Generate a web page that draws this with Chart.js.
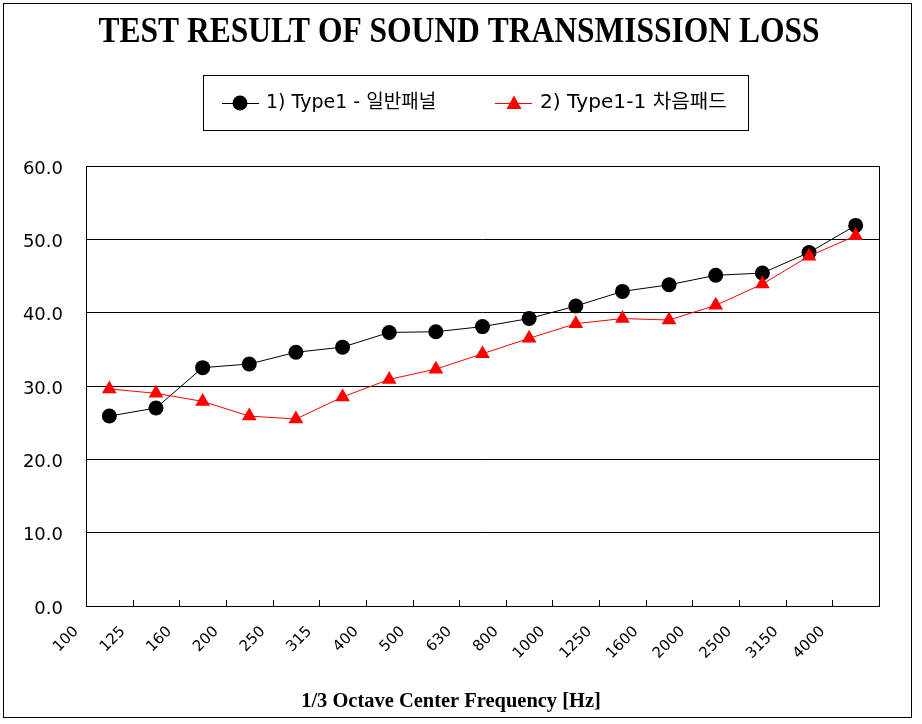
<!DOCTYPE html>
<html>
<head>
<meta charset="utf-8">
<script src="https://cdn.jsdelivr.net/npm/chart.js@4"></script>
<style>
  body { margin: 0; background: #fff; }
  canvas { display: block; }
</style>
</head>
<body>
<canvas id="mycanvas" width="922" height="724"></canvas>
<script>
// 1/3 octave bands and measured TL values (dB)
var freqs = ["100", "125", "160", "200", "250", "315", "400", "500", "630", "800",
             "1000", "1250", "1600", "2000", "2500", "3150", "4000"];
var type1 = [25.9, 27.0, 32.5, 33.0, 34.6, 35.3, 37.3, 37.4, 38.1, 39.2,
             40.9, 42.9, 43.8, 45.1, 45.4, 48.2, 51.9];
var type1pad = [29.6, 29.0, 27.9, 25.9, 25.5, 28.5, 30.9, 32.3, 34.4, 36.5,
                38.5, 39.2, 39.0, 41.0, 43.9, 47.7, 50.5];
var label1 = "1) Type1 - 일반패널";
var label2 = "2) Type1-1 차음패드";
var chartTitle = "TEST RESULT OF SOUND TRANSMISSION LOSS";
var xTitle = "1/3 Octave Center Frequency [Hz]";

var decor = {
  id: "decor",
  afterDraw: function(chart) {
    var ctx = chart.ctx;
    var a = chart.chartArea;
    var x = chart.scales.x;
    ctx.save();
    ctx.strokeStyle = "#000";
    ctx.lineWidth = 1;

    // outer frame
    ctx.strokeRect(3.5, 3.5, 908, 714);

    // plot frame
    ctx.strokeRect(Math.round(a.left) + 0.5, Math.round(a.top) + 0.5,
                   Math.round(a.right - a.left), Math.round(a.bottom - a.top));

    // inside tick marks between categories
    var n = freqs.length;
    var step = (x.getPixelForTick(n - 1) - x.getPixelForTick(0)) / (n - 1);
    ctx.beginPath();
    for (var i = 0; i <= n; i++) {
      var px = Math.round(x.getPixelForTick(0) - step / 2 + i * step) + 0.5;
      ctx.moveTo(px, a.bottom);
      ctx.lineTo(px, a.bottom - 6);
    }
    ctx.stroke();

    // title
    ctx.fillStyle = "#000";
    ctx.textAlign = "center";
    ctx.textBaseline = "alphabetic";
    ctx.save();
    ctx.translate(459, 42);
    ctx.scale(0.875, 1);
    ctx.font = "bold 36px 'Liberation Serif'";
    ctx.fillText(chartTitle, 0, 0);
    ctx.restore();

    // x axis title
    ctx.save();
    ctx.translate(451, 707);
    ctx.scale(0.93, 1);
    ctx.font = "bold 22px 'Liberation Serif'";
    ctx.fillText(xTitle, 0, 0);
    ctx.restore();

    // legend
    ctx.strokeRect(203.5, 75.5, 545, 55);
    var ly = 103;
    ctx.beginPath();
    ctx.moveTo(222, ly + 0.5); ctx.lineTo(259, ly + 0.5);
    ctx.stroke();
    ctx.beginPath();
    ctx.arc(240, ly, 7.5, 0, Math.PI * 2);
    ctx.fill();

    ctx.strokeStyle = "#ff0000";
    ctx.fillStyle = "#ff0000";
    ctx.beginPath();
    ctx.moveTo(495, ly + 0.5); ctx.lineTo(532, ly + 0.5);
    ctx.stroke();
    ctx.beginPath();
    ctx.moveTo(514, ly - 7.5);
    ctx.lineTo(521.5, ly + 6);
    ctx.lineTo(506.5, ly + 6);
    ctx.closePath();
    ctx.fill();

    ctx.fillStyle = "#000";
    ctx.textAlign = "left";
    ctx.textBaseline = "middle";
    ctx.font = "19px 'DejaVu Sans', 'Noto Sans CJK KR'";
    ctx.save();
    ctx.translate(266, ly);
    ctx.scale(1.0, 1);
    ctx.fillText(label1, 0, 0);
    ctx.restore();
    ctx.save();
    ctx.translate(540, ly);
    ctx.scale(1.06, 1);
    ctx.fillText(label2, 0, 0);
    ctx.restore();
    ctx.restore();
  }
};

var chartdata = {
  labels: freqs,
  datasets: [
    {
      label: label1,
      data: type1,
      borderColor: "#000",
      backgroundColor: "#000",
      borderWidth: 1,
      pointStyle: "circle",
      pointRadius: 7.5,
      pointBorderWidth: 0,
      pointBackgroundColor: "#000",
      lineTension: 0,
      fill: false,
      order: 1
    },
    {
      label: label2,
      data: type1pad,
      borderColor: "#ff0000",
      backgroundColor: "#ff0000",
      borderWidth: 1,
      pointStyle: "triangle",
      pointRadius: 8.5,
      pointBorderWidth: 0,
      pointBackgroundColor: "#ff0000",
      lineTension: 0,
      fill: false,
      order: 0
    }
  ]
};

var ctx = document.getElementById("mycanvas");
var LineGraph = new Chart(ctx, {
  type: "line",
  data: chartdata,
  plugins: [decor],
  options: {
    responsive: false,
    animation: false,
    devicePixelRatio: 1,
    layout: { padding: { top: 166, right: 43, left: 0, bottom: 0 } },
    plugins: {
      legend: { display: false },
      title: { display: false },
      tooltip: { enabled: false }
    },
    scales: {
      x: {
        offset: true,
        grid: { display: false, drawTicks: false },
        border: { display: false },
        ticks: {
          minRotation: 45,
          maxRotation: 45,
          autoSkip: false,
          labelOffset: -33,
          padding: 17,
          color: "#000",
          font: { family: "'DejaVu Sans'", size: 15 }
        },
        afterFit: function(s) { s.height = 118; }
      },
      y: {
        min: 0,
        max: 60,
        grid: { color: "#000", lineWidth: 1, drawTicks: false },
        border: { display: false },
        ticks: {
          stepSize: 10,
          padding: 23,
          labelOffset: 3,
          color: "#000",
          font: { family: "'DejaVu Sans'", size: 18 },
          callback: function(v) { return v.toFixed(1); }
        },
        afterFit: function(s) { s.width = 86; }
      }
    }
  }
});
</script>
</body>
</html>
